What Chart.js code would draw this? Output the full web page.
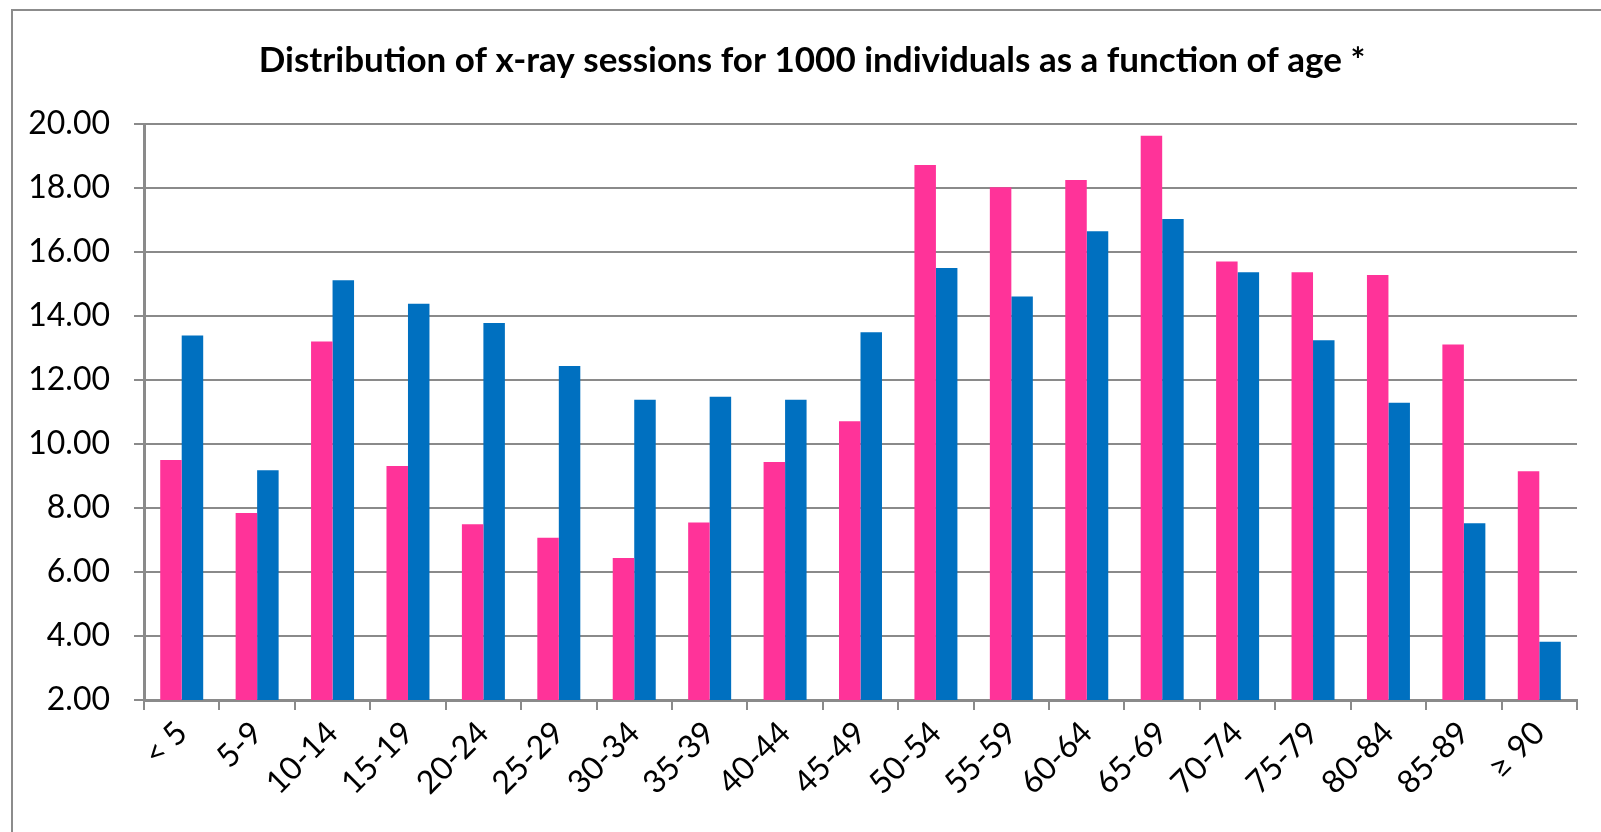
<!DOCTYPE html>
<html>
<head>
<meta charset="utf-8">
<script src="https://cdn.jsdelivr.net/npm/chart.js@4"></script>
<style>
  html, body { margin: 0; padding: 0; background: #fff; overflow: hidden; }
  #wrap { position: relative; width: 1601px; height: 832px; }
  #frame { position: absolute; left: 11px; top: 9px; width: 1700px; height: 900px; border: 2px solid #8c8c8c; box-sizing: border-box; }
  canvas { position: absolute; left: 0; top: 0; }
</style>
</head>
<body>
<div id="wrap">
  <div id="frame"></div>
  <canvas id="barChart" width="1601" height="832"></canvas>
</div>
<script>
// grupos de edad
const ageGroups = ['< 5', '5-9', '10-14', '15-19', '20-24', '25-29', '30-34', '35-39', '40-44', '45-49',
  '50-54', '55-59', '60-64', '65-69', '70-74', '75-79', '80-84', '85-89', '\u2265 90'];

// sesiones por 1000 personas
const pinkValues = [9.50, 7.84, 13.20, 9.31, 7.49, 7.07, 6.44, 7.55, 9.44, 10.71,
  18.72, 18.02, 18.25, 19.63, 15.70, 15.37, 15.28, 13.11, 9.15];
const blueValues = [13.39, 9.18, 15.12, 14.38, 13.78, 12.44, 11.38, 11.48, 11.38, 13.49,
  15.50, 14.61, 16.65, 17.03, 15.37, 13.24, 11.29, 7.52, 3.82];

const yMin = 2, yMax = 20, yStep = 2;

const chartTitle = 'Distribution of x-ray sessions for 1000 individuals as a function of age *';
const gridGray = '#8a8a8a';
const font = "Lato, 'Open Sans', sans-serif";

// titulo dibujado a mano (un poco desplazado a la derecha como en el original)
const titlePlugin = {
  id: 'manualTitle',
  afterDraw(chart) {
    const c = chart.ctx;
    c.save();
    c.font = 'bold 35px ' + font;
    c.fillStyle = '#000';
    c.textAlign = 'center';
    c.textBaseline = 'middle';
    c.fillText(chartTitle, 812, 61);
    c.restore();
  }
};

const ctx = document.getElementById('barChart').getContext('2d');
new Chart(ctx, {
  type: 'bar',
  data: {
    labels: ageGroups,
    datasets: [
      { label: 'A', data: pinkValues, backgroundColor: '#ff3399', categoryPercentage: 0.57, barPercentage: 1.0 },
      { label: 'B', data: blueValues, backgroundColor: '#0070c0', categoryPercentage: 0.57, barPercentage: 1.0 }
    ]
  },
  plugins: [titlePlugin],
  options: {
    responsive: false,
    animation: false,
    layout: { padding: { left: 0, right: 24, top: 124, bottom: 0 } },
    plugins: {
      legend: { display: false },
      tooltip: { enabled: false },
      title: { display: false }
    },
    scales: {
      x: {
        afterFit: (s) => { s.height = 132; },
        grid: { display: true, drawOnChartArea: false, drawTicks: true, tickLength: 10, color: gridGray, lineWidth: 2 },
        border: { display: true, color: gridGray, width: 3 },
        ticks: {
          color: '#000', minRotation: 45, maxRotation: 45, padding: 4,
          font: { family: font, size: 32 }
        }
      },
      y: {
        min: yMin, max: yMax,
        afterFit: (s) => { s.width = 144; },
        grid: { color: gridGray, lineWidth: 2, tickLength: 10 },
        border: { display: true, color: gridGray, width: 3 },
        ticks: {
          stepSize: yStep, color: '#000', padding: 24,
          font: { family: font, size: 32 },
          callback: (v) => Number(v).toFixed(2)
        }
      }
    }
  }
});
</script>
</body>
</html>
